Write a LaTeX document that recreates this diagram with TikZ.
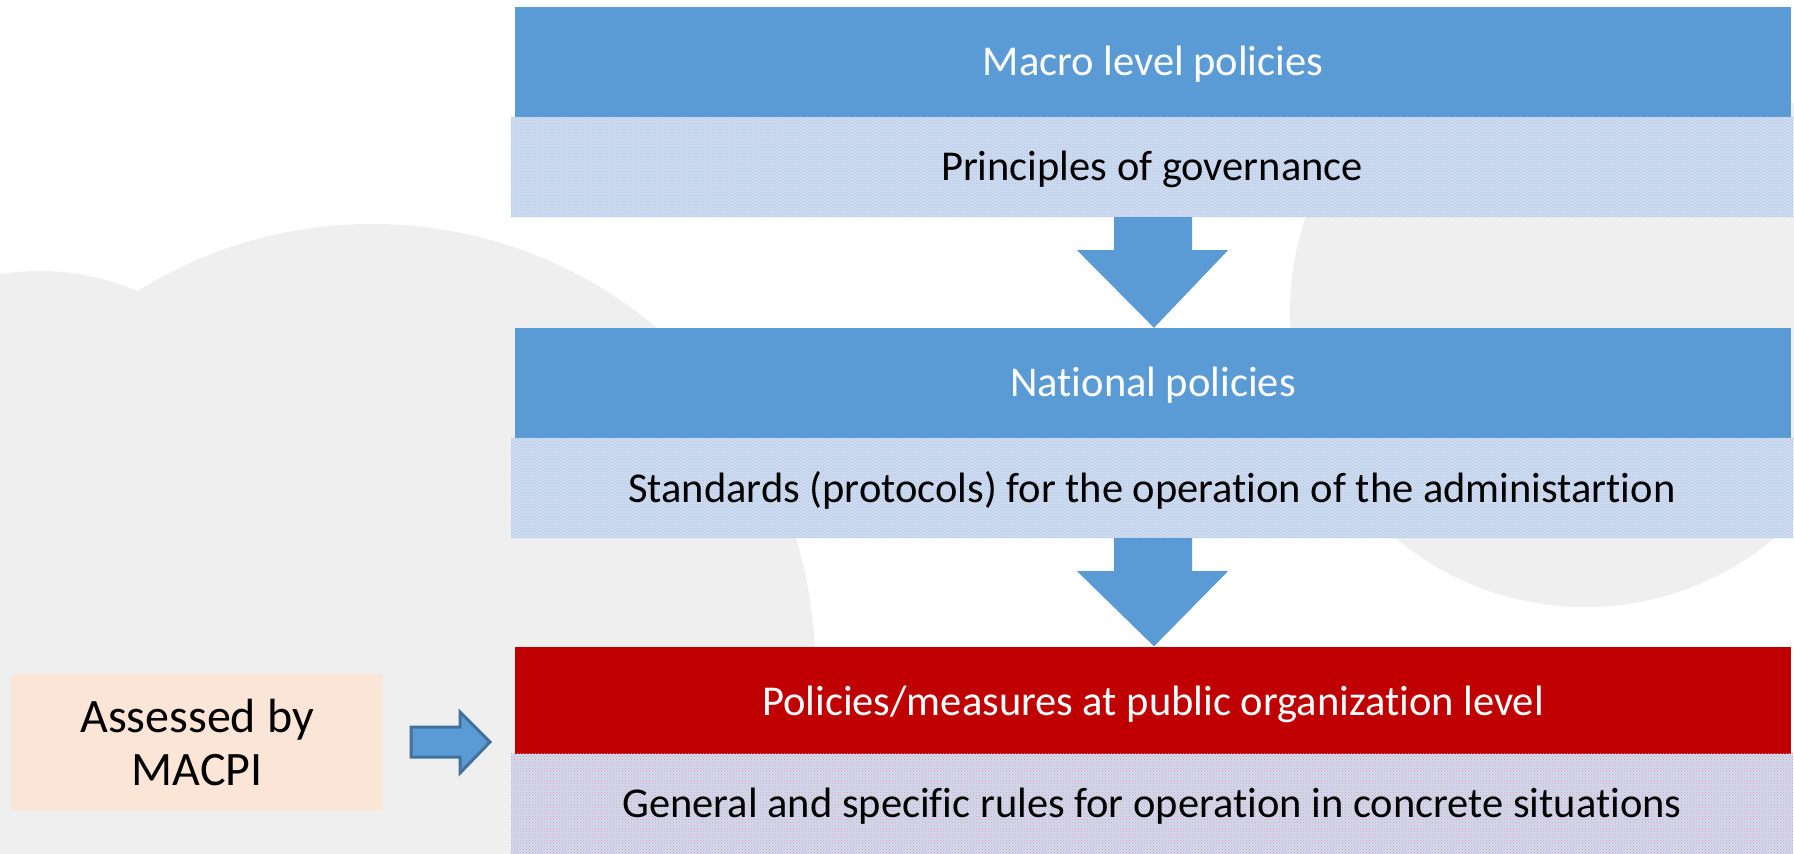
\documentclass[tikz,border=0pt]{standalone}
\usepackage{fontspec}
\setmainfont{Carlito}[Ligatures=NoCommon]
\usetikzlibrary{calc,patterns}
\definecolor{bgrey}{HTML}{EFEFEF}
\definecolor{mblue}{HTML}{5B9BD5}
\definecolor{dblue}{HTML}{41719C}
\definecolor{lblue}{HTML}{CFDBEF}
\definecolor{dotblue}{HTML}{A9C4E8}
\definecolor{dotred}{HTML}{E39AAE}
\definecolor{mred}{HTML}{C00000}
\definecolor{peach}{HTML}{FBE5D6}
\tikzset{
  txt/.style={font=\fontsize{42.5}{51}\selectfont},
  headbox/.style={txt, fill=mblue, text=white, minimum width=1276pt, minimum height=110pt, inner sep=0pt},
  redbox/.style={headbox, fill=mred},
  subbox/.style={txt, fill=lblue, text=black, minimum width=1282pt, minimum height=100pt, inner sep=0pt},
  bluedots/.style={pattern=crosshatch dots, pattern color=dotblue},
  reddots/.style={pattern=crosshatch dots, pattern color=dotred},
  downarrow/.style={fill=mblue},
  lbl/.style={txt, yshift=-2.5pt},
}
\begin{document}
\begin{tikzpicture}[x=1pt,y=-1pt]
\useasboundingbox (0,0) rectangle (1794,854);
\begin{scope}
\clip (0,0) rectangle (1794,854);
\fill[bgrey] (40,516) circle[radius=245];
\fill[bgrey] (372,667) circle[radius=443];
\fill[bgrey] (1585,312) circle[radius=295];
\end{scope}
% boxes
\node[headbox] (h1) at (1153,62) {};
\node[lbl, text=white] (t1) at (h1.center) {Macro level policies};
\node[subbox] (s1) at (1152,167) {};
\fill[bluedots] (s1.south west) rectangle (s1.north east);
\node[lbl] (u1) at (s1.center) {Principles of governance};

\node[headbox] (h2) at (1153,383) {};
\node[lbl, text=white] (t2) at (h2.center) {National policies};
\node[subbox] (s2) at (1152,488) {};
\fill[bluedots] (s2.south west) rectangle (s2.north east);
\node[lbl] (u2) at (s2.center) {Standards (protocols) for the operation of the administartion};

\node[redbox] (h3) at (1153,701.5) {};
\node[lbl, text=white] (t3) at (h3.center) {Policies/measures at public organization level};
\node[subbox] (s3) at (1152,804) {};
\fill[reddots] (s3.south west) rectangle (s3.north east);
\node[lbl] (u3) at (s3.center) {General and specific rules for operation in concrete situations};

% down arrows
\foreach \a/\b in {s1/h2, s2/h3}{
  \fill[downarrow] ($(\a.south)+(-38,0)$) -- ($(\a.south)+(40,0)$)
     -- ($(\a.south)+(40,33)$) -- ($(\a.south)+(76,33)$)
     -- ($(\b.north)+(1,0)$) -- ($(\a.south)+(-75,33)$)
     -- ($(\a.south)+(-38,33)$) -- cycle;
}

% assessed box
\node[fill=peach, minimum width=372pt, minimum height=136pt, inner sep=0pt,
      align=center, font=\fontsize{48}{53}\selectfont] (as) at (197,742) {Assessed by\\MACPI};

% small right arrow
\coordinate (sa) at (411,742);
\draw[fill=mblue, draw=dblue, line width=3pt, line join=miter]
  ($(sa)+(0,-15)$) -- ($(sa)+(49,-15)$) -- ($(sa)+(49,-30)$) -- ($(sa)+(79,0)$)
  -- ($(sa)+(49,31)$) -- ($(sa)+(49,15)$) -- ($(sa)+(0,15)$) -- cycle;
\end{tikzpicture}
\end{document}
